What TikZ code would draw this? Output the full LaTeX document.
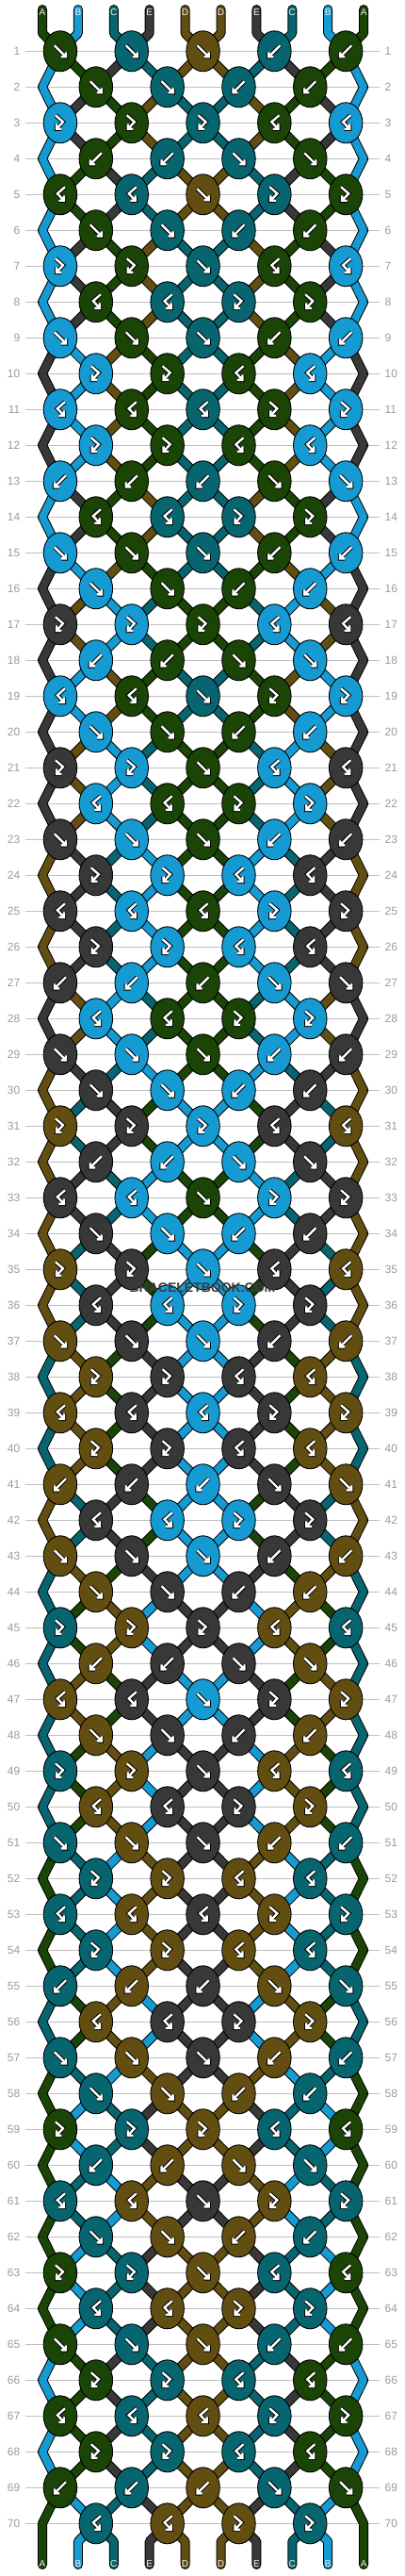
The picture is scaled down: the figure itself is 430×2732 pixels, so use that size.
\documentclass[tikz,border=0pt]{standalone}
\usepackage{fontspec}
\setmainfont{Liberation Sans}
\usetikzlibrary{shapes.geometric}
\pgfdeclarelayer{grid}
\pgfdeclarelayer{sout}
\pgfdeclarelayer{sfill}
\pgfsetlayers{grid,sout,sfill,main}
\definecolor{cG}{HTML}{1A4506}
\definecolor{cL}{HTML}{159AD2}
\definecolor{cT}{HTML}{07656F}
\definecolor{cK}{HTML}{383838}
\definecolor{cW}{HTML}{634E12}
\definecolor{gridgray}{HTML}{C0C0C0}
\definecolor{numgray}{HTML}{9A9A9A}
\definecolor{wmark}{HTML}{3C3C3C}
\definecolor{labwhite}{HTML}{F2F2F2}

% knot types per row class (period 14)
\expandafter\def\csname ty1\endcsname{f,f,f,b,b}
\expandafter\def\csname ty2\endcsname{f,f,b,b}
\expandafter\def\csname ty3\endcsname{F,F,F,B,B}
\expandafter\def\csname ty4\endcsname{b,b,f,f}
\expandafter\def\csname ty5\endcsname{B,B,f,F,F}
\expandafter\def\csname ty6\endcsname{f,f,b,b}
\expandafter\def\csname ty7\endcsname{F,F,f,B,B}
\expandafter\def\csname ty8\endcsname{B,B,F,F}
\expandafter\def\csname ty9\endcsname{f,f,f,b,b}
\expandafter\def\csname ty10\endcsname{F,F,B,B}
\expandafter\def\csname ty11\endcsname{B,B,B,F,F}
\expandafter\def\csname ty12\endcsname{F,F,B,B}
\expandafter\def\csname ty13\endcsname{b,b,b,f,f}
\expandafter\def\csname ty14\endcsname{B,B,F,F}

% simulate the strings
\def\initcols{cG,cL,cT,cK,cW,cW,cK,cT,cL,cG}
\foreach \c [count=\ii from 0] in \initcols {%
  \expandafter\xdef\csname pc\ii\endcsname{\c}%
  \expandafter\xdef\csname sc-0-\ii\endcsname{\c}}
\foreach \r in {1,...,70}{%
  \pgfmathtruncatemacro\cls{mod(\r-1,14)+1}%
  \pgfmathtruncatemacro\odd{mod(\r,2)}%
  \edef\tl{\csname ty\cls\endcsname}%
  \foreach \ty [count=\kj from 0] in \tl {%
    \pgfmathtruncatemacro\pa{\odd==1 ? 2*\kj : 2*\kj+1}%
    \pgfmathtruncatemacro\pb{\pa+1}%
    \edef\Lc{\csname pc\pa\endcsname}%
    \edef\Rc{\csname pc\pb\endcsname}%
    \expandafter\xdef\csname kt-\r-\kj\endcsname{\ty}%
    \if f\ty
      \expandafter\xdef\csname kc-\r-\kj\endcsname{\Lc}%
      \expandafter\xdef\csname pc\pa\endcsname{\Rc}%
      \expandafter\xdef\csname pc\pb\endcsname{\Lc}%
    \fi
    \if b\ty
      \expandafter\xdef\csname kc-\r-\kj\endcsname{\Rc}%
      \expandafter\xdef\csname pc\pa\endcsname{\Rc}%
      \expandafter\xdef\csname pc\pb\endcsname{\Lc}%
    \fi
    \if F\ty
      \expandafter\xdef\csname kc-\r-\kj\endcsname{\Lc}%
    \fi
    \if B\ty
      \expandafter\xdef\csname kc-\r-\kj\endcsname{\Rc}%
    \fi
  }%
  \foreach \ii in {0,...,9}{\expandafter\xdef\csname sc-\r-\ii\endcsname{\csname pc\ii\endcsname}}%
}

\def\strmode{0}
\newcommand\strpath[2]{%
  \ifnum\strmode=0 \draw[strout] #2;\else \draw[strfill,#1] #2;\fi}

\newcommand\allstrings{%
  % top
  \foreach \ii in {0,...,9}{%
    \pgfmathtruncatemacro\jj{int(\ii/2)}%
    \edef\col{\csname sc-0-\ii\endcsname}%
    \strpath{\col}{(t-\ii) -- (tb-\ii) -- (k-1-\jj.center)}%
  }%
  % interior
  \foreach \r in {1,...,69}{%
    \pgfmathtruncatemacro\odd{mod(\r,2)}%
    \pgfmathtruncatemacro\rn{\r+1}%
    \foreach \ii in {1,...,8}{%
      \ifnum\odd=1
        \pgfmathtruncatemacro\ja{int(\ii/2)}\pgfmathtruncatemacro\jb{int((\ii-1)/2)}%
      \else
        \pgfmathtruncatemacro\ja{int((\ii-1)/2)}\pgfmathtruncatemacro\jb{int(\ii/2)}%
      \fi
      \edef\col{\csname sc-\r-\ii\endcsname}%
      \strpath{\col}{(k-\r-\ja.center) -- (k-\rn-\jb.center)}%
    }%
  }%
  % bottom
  \foreach \ii in {1,...,8}{%
    \pgfmathtruncatemacro\ja{int((\ii-1)/2)}%
    \edef\col{\csname sc-70-\ii\endcsname}%
    \strpath{\col}{(k-70-\ja.center) -- (bb-\ii) -- (be-\ii)}%
  }%
  % edges
  \foreach \ii/\jj in {0/0,9/4}{%
    \foreach \r in {1,3,...,67}{%
      \pgfmathtruncatemacro\rn{\r+1}%
      \pgfmathtruncatemacro\rnn{\r+2}%
      \edef\col{\csname sc-\r-\ii\endcsname}%
      \strpath{\col}{(k-\r-\jj.center) -- (e-\rn-\ii) -- (k-\rnn-\jj.center)}%
    }%
    \edef\col{\csname sc-69-\ii\endcsname}%
    \strpath{\col}{(k-69-\jj.center) -- (e-70-\ii) -- (be-\ii)}%
  }%
}

\begin{document}
\begin{tikzpicture}[x=1pt,y=-1pt,
  knot/.style={ellipse, draw=black, line width=0.9pt, minimum width=35.5pt, minimum height=43pt, inner sep=0pt},
  strout/.style={line width=10pt, black, line cap=round, line join=round},
  strfill/.style={line width=8pt, line cap=round, line join=round},
  gl/.style={line width=4.4pt, black, line join=miter, line cap=butt},
  gw/.style={line width=2.4pt, white, line join=miter, line cap=butt},
  rownum/.style={text=numgray, font=\fontsize{12}{12}\selectfont, inner sep=0pt},
  strlab/.style={text=labwhite, font=\fontsize{10}{10}\selectfont, inner sep=0pt},
  pics/glf/.style={code={\draw[gl] (-6,-6)--(6,6) (6,1)--(6,6)--(1,6); \draw[gw] (-6,-6)--(6,6) (6,1)--(6,6)--(1,6);}},
  pics/glb/.style={code={\draw[gl] (6,-6)--(-6,6) (-6,1)--(-6,6)--(-1,6); \draw[gw] (6,-6)--(-6,6) (-6,1)--(-6,6)--(-1,6);}},
  pics/glF/.style={code={\draw[gl] (-5,-8)--(3,-1)--(-4,6.5) (-4,1)--(-4,6.5)--(1.5,6.5); \draw[gw] (-5,-8)--(3,-1)--(-4,6.5) (-4,1)--(-4,6.5)--(1.5,6.5);}},
  pics/glB/.style={code={\draw[gl] (5,-8)--(-3,-1)--(4,6.5) (4,1)--(4,6.5)--(-1.5,6.5); \draw[gw] (5,-8)--(-3,-1)--(4,6.5) (4,1)--(4,6.5)--(-1.5,6.5);}},
]
\path[use as bounding box] (0,0) rectangle (430,2732);

% grid lines
\begin{pgfonlayer}{grid}
\foreach \r in {1,...,70}{
  \pgfmathsetmacro\yy{54.3+38*(\r-1)}
  \draw[gridgray, line width=1pt] (27,\yy) -- (403,\yy);
}
\end{pgfonlayer}
% row numbers
\foreach \r in {1,...,70}{
  \pgfmathsetmacro\yy{54.3+38*(\r-1)}
  \node[rownum, anchor=east] (ln-\r) at (21.5,\yy) {\r};
  \node[rownum, anchor=west] (rn-\r) at (408.5,\yy) {\r};
}

% knots
\foreach \r in {1,...,70}{
  \pgfmathtruncatemacro\odd{mod(\r,2)}
  \pgfmathtruncatemacro\nk{\odd==1 ? 4 : 3}
  \pgfmathsetmacro\yy{54.3+38*(\r-1)}
  \foreach \kj in {0,...,\nk}{
    \pgfmathsetmacro\xx{\odd==1 ? 63.95+75.8*\kj : 101.85+75.8*\kj}
    \edef\kc{\csname kc-\r-\kj\endcsname}
    \edef\kt{\csname kt-\r-\kj\endcsname}
    \node[knot, fill=\kc] (k-\r-\kj) at (\xx,\yy) {};
    \edef\tmp{\noexpand\pic at (\xx,\yy) {gl\kt};}\tmp
  }
  \ifnum\odd=0
    \coordinate (e-\r-0) at (45,\yy);
    \coordinate (e-\r-9) at (386.1,\yy);
  \fi
}

% string ends and labels
\foreach \lab [count=\ii from 0] in {A,B,C,E,D,D,E,C,B,A}{
  \pgfmathsetmacro\xx{45+37.9*\ii}
  \coordinate (t-\ii) at (\xx,10);
  \coordinate (tb-\ii) at (\xx,35.3);
  \coordinate (bb-\ii) at (\xx,2695.3);
  \coordinate (be-\ii) at (\xx,2720);
  \node[strlab] (tl-\ii) at (\xx,13) {\lab};
  \node[strlab] (bl-\ii) at (\xx,2719) {\lab};
}

% strings: outlines, then fills
\begin{pgfonlayer}{sout}
\def\strmode{0}\allstrings
\end{pgfonlayer}
\begin{pgfonlayer}{sfill}
\def\strmode{1}\allstrings
\end{pgfonlayer}

\node[font=\bfseries\fontsize{14}{14}\selectfont, text=wmark] (wm) at (215,1365.5) {BRACELETBOOK.COM};
\end{tikzpicture}
\end{document}
